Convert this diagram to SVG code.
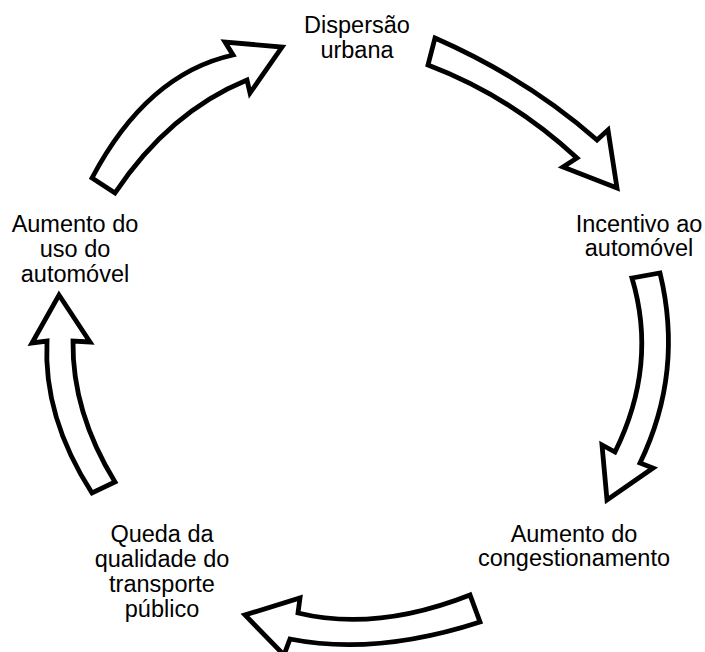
<svg xmlns="http://www.w3.org/2000/svg" width="705" height="652" viewBox="0 0 705 652">
<style>
.arrow{fill:#fff;stroke:#000;stroke-width:4.8;stroke-linejoin:miter}
.lbl{font-family:"Liberation Sans",Arial,Helvetica,sans-serif;font-size:23.5px;fill:#000;text-anchor:middle}
</style>
<rect width="705" height="652" fill="#fff"/>
<g id="connectors">
<path id="a1" class="arrow" d="M 435,38 Q 528,79 597,140 L 608,130 L 617,188 L 563,167 L 577,158 Q 510,96 428,65 Z"/>
<path id="a2" class="arrow" d="M 632,278 L 660,273 Q 684,372 640,463 L 653,468 L 607,500 L 602,445 L 615,452 Q 658,365 632,278 Z"/>
<path id="a3" class="arrow" d="M 470,595 Q 376,632 298,613 L 300,598 L 245,615 L 284,655 L 290,639 Q 375,656 480,622 Z"/>
<path id="a4" class="arrow" d="M 59,295 L 90,342 L 73,341 Q 72,412 115,482 L 92,493 Q 43,417 47,341 L 32,343 Z"/>
<path id="a5" class="arrow" d="M 92,178 Q 147,74 233,55 L 225,42 L 282,47 L 250,93 L 247,80 Q 169,112 115,193 Z"/>
</g>
<g id="n1"><text class="lbl" x="357" y="33">Dispersão</text><text class="lbl" x="357" y="58">urbana</text></g>
<g id="n2"><text class="lbl" x="639" y="232">Incentivo ao</text><text class="lbl" x="639" y="256">automóvel</text></g>
<g id="n3"><text class="lbl" x="574" y="542">Aumento do</text><text class="lbl" x="574" y="566">congestionamento</text></g>
<g id="n4"><text class="lbl" x="162" y="542">Queda da</text><text class="lbl" x="162" y="567">qualidade do</text><text class="lbl" x="162" y="592">transporte</text><text class="lbl" x="162" y="617">público</text></g>
<g id="n5"><text class="lbl" x="75" y="232">Aumento do</text><text class="lbl" x="75" y="257">uso do</text><text class="lbl" x="75" y="282">automóvel</text></g>
</svg>
